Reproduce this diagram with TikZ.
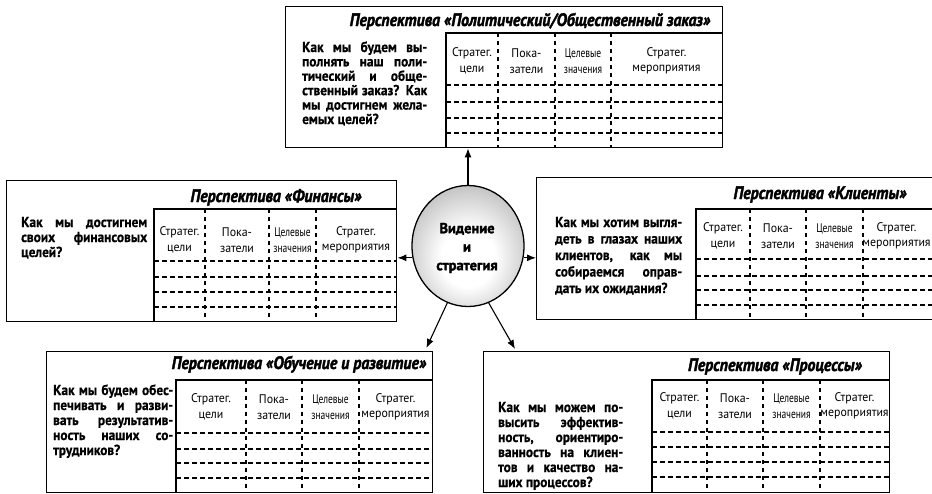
\documentclass[tikz,border=0pt]{standalone}
\usepackage{fontspec}
\setmainfont{PT Sans}
\newfontfamily\qfont{PT Sans}[FakeStretch=0.92,FakeBold=0.6]
\newfontfamily\hfont{PT Sans}[FakeStretch=0.95]
\newfontfamily\cfont{PT Sans}[FakeStretch=0.76]
\newfontfamily\tfont{PT Sans}[FakeStretch=0.88,FakeBold=2]
\newfontfamily\vfont{PT Sans}[FakeBold=2]
\usetikzlibrary{arrows.meta,shapes.geometric}
\pgfdeclareradialshading{visball}{\pgfpoint{0bp}{-6bp}}{color(0bp)=(white); color(12bp)=(white); color(30bp)=(black!25); color(48bp)=(black!55); color(70bp)=(black!60)}
\newcommand\jl[1]{\makebox[\linewidth][s]{#1}\\}
\tikzset{
  box/.style={draw, line width=1.4pt, inner sep=0pt, anchor=north west},
  tline/.style={line width=1.2pt},
  hdash/.style={line width=1.1pt, dash pattern=on 5pt off 3pt},
  vdash/.style={line width=1.1pt, dash pattern=on 4pt off 4pt},
  hdr/.style={align=center, inner sep=0pt, font=\hfont\fontsize{12.5}{15.5}\selectfont},
  hdrc/.style={align=center, inner sep=0pt, font=\cfont\fontsize{12.5}{15.5}\selectfont},
  ttl/.style={anchor=base, inner sep=0pt, font=\tfont\bfseries\itshape\fontsize{18}{20}\selectfont},
  qq/.style={anchor=base west, inner sep=0pt},
  arr/.style={line width=1.1pt, -{Latex[length=9pt,width=7pt]}},
}
% table frame: left, top, right, bottom, c1, c2, c3
\newcommand\ptable[7]{%
  \draw[tline] (#1,#4) -- (#1,#2) -- (#3,#2);
  \foreach \c in {#5,#6,#7} \draw[vdash] (\c,#2) -- (\c,#4);
}
% header labels: prefix, left, c1, c2, c3, right, y
\newcommand\phdr[7]{%
  \node[hdr] (#1-h1) at ({(#2+#3)/2},#7) {Стратег.\\цели};
  \node[hdr] (#1-h2) at ({(#3+#4)/2},#7) {Пока-\\затели};
  \node[hdrc] (#1-h3) at ({(#4+#5)/2},#7) {Целевые\\значения};
  \node[hdr] (#1-h4) at ({(#5+#6)/2},#7) {Стратег.\\мероприятия};
}
\begin{document}
\begin{tikzpicture}[x=1pt,y=-1pt]
\useasboundingbox (0,0) rectangle (932,493);

% ---------- top: political / public order ----------
\node[box, minimum width=437pt, minimum height=141pt] (pol) at (285,6) {};
\ptable{446}{33}{722}{147}{498}{555}{611}
\foreach \r in {85,102,118,133} \draw[hdash] (446,\r) -- (722,\r);
\phdr{pol}{446}{498}{555}{611}{722}{61}
\node[ttl] (pol-t) at (530,26) {Перспектива «Политический/Общественный заказ»};
\node[qq] (pol-q) at (302,52) {\parbox[t]{125pt}{\qfont\bfseries\fontsize{14.5}{14.4}\selectfont
\jl{Как мы будем вы-}
\jl{полнять наш поли-}
\jl{тический и обще-}
\jl{ственный заказ? Как}
\jl{мы достигнем жела-}
емых целей?}};

% ---------- left: finance ----------
\node[box, minimum width=390pt, minimum height=141pt] (fin) at (6,180) {};
\ptable{154}{209}{396}{321}{205}{269}{316}
\foreach \r in {261,277,292,307} \draw[hdash] (154,\r) -- (396,\r);
\phdr{fin}{154}{205}{269}{316}{396}{240}
\node[ttl] (fin-t) at (276,202) {Перспектива «Финансы»};
\node[qq] (fin-q) at (21,227) {\parbox[t]{126pt}{\qfont\bfseries\fontsize{14.5}{15}\selectfont
\jl{Как мы достигнем}
\jl{своих финансовых}
целей?}};

% ---------- right: clients ----------
\node[box, minimum width=398pt, minimum height=142pt] (cli) at (536,177) {};
\ptable{696}{209}{934}{319}{750}{806}{863}
\foreach \r in {259,276,290,305} \draw[hdash] (696,\r) -- (934,\r);
\phdr{cli}{696}{750}{806}{863}{930}{236}
\node[ttl] (cli-t) at (820,199) {Перспектива «Клиенты»};
\node[qq] (cli-q) at (555,227) {\parbox[t]{127pt}{\qfont\bfseries\fontsize{14.5}{16.5}\selectfont
\jl{Как мы хотим выгля-}
\jl{деть в глазах наших}
\jl{клиентов, как мы}
\jl{собираемся оправ-}
дать их ожидания?}};

% ---------- bottom left: learning ----------
\node[box, minimum width=386pt, minimum height=140.5pt] (lrn) at (46,351) {};
\ptable{176}{380}{432}{491.5}{246}{302}{359}
\foreach \r in {433,449,463,478} \draw[hdash] (176,\r) -- (432,\r);
\phdr{lrn}{176}{246}{302}{359}{432}{407}
\node[ttl] (lrn-t) at (299,369) {Перспектива «Обучение и развитие»};
\node[qq] (lrn-q) at (53,395) {\parbox[t]{120pt}{\qfont\bfseries\fontsize{14.5}{15}\selectfont
\jl{Как мы будем обес-}
\jl{печивать и разви-}
\jl{вать результатив-}
\jl{ность наших со-}
трудников?}};

% ---------- bottom right: processes ----------
\node[box, minimum width=406pt, minimum height=140.5pt] (proc) at (483,351) {};
\ptable{652}{380}{889}{491.5}{707}{763}{820}
\foreach \r in {432,447,462,477} \draw[hdash] (652,\r) -- (889,\r);
\phdr{proc}{652}{707}{763}{820}{889}{406}
\node[ttl] (proc-t) at (775,371) {Перспектива «Процессы»};
\node[qq] (proc-q) at (498,412) {\parbox[t]{125pt}{\qfont\bfseries\fontsize{14.5}{15}\selectfont
\jl{Как мы можем по-}
\jl{высить эффектив-}
\jl{ность, ориентиро-}
\jl{ванность на клиен-}
\jl{тов и качество на-}
ших процессов?}};

% ---------- centre ----------
\node[ellipse, draw, line width=1.3pt, shading=visball, minimum width=112pt, minimum height=121pt, inner sep=0pt] (vis) at (468,246) {};
\node[align=center, inner sep=0pt, font=\vfont\bfseries\fontsize{14.5}{18.5}\selectfont] (vis-t) at (467,248) {Видение\\и\\стратегия};

% ---------- arrows ----------
\draw[arr] (vis.north) -- (vis.north |- pol.south);
\draw[arr] (vis.192) -- (vis.192 -| fin.east);
\draw[arr] (vis.-12) -- (vis.-12 -| cli.west);
\draw[arr] (vis.250) -- ([xshift=-7pt,yshift=3pt]lrn.north east);
\draw[arr] (vis.290) -- ([xshift=32pt,yshift=2pt]proc.north west);
\end{tikzpicture}
\end{document}
